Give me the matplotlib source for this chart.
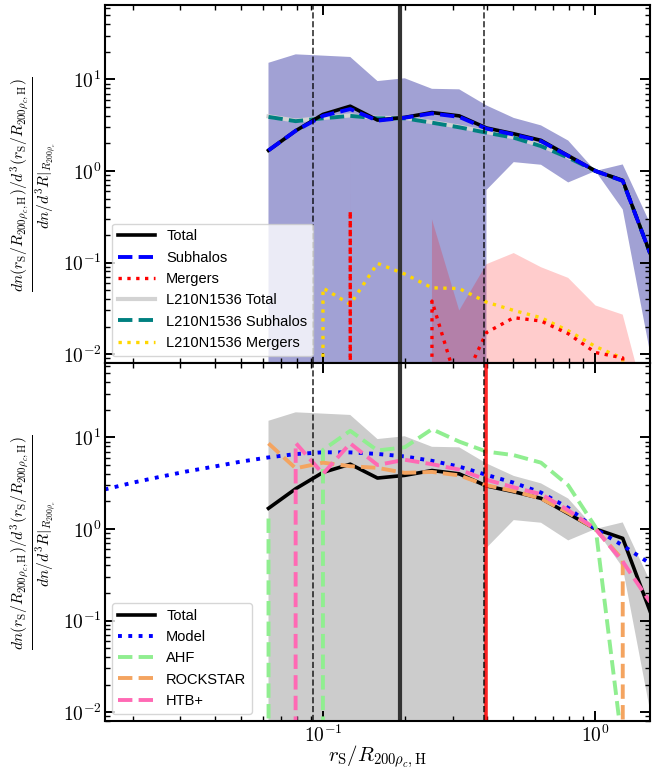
import numpy as np
import matplotlib as mpl
mpl.use('Agg')
import matplotlib.pyplot as plt
from matplotlib.ticker import FuncFormatter

plt.rcParams['mathtext.fontset'] = 'cm'
plt.rcParams['font.family'] = ['Liberation Sans', 'DejaVu Sans']
plt.rcParams['axes.linewidth'] = 1.5

# bin centres in r_S / R_200,H
r_bins = [0.0631, 0.0794, 0.1, 0.1259, 0.1585, 0.1995, 0.2512, 0.3162,
          0.3981, 0.5012, 0.6310, 0.7943, 1.0, 1.2589, 1.5849]

# main run
total      = [1.68, 2.75, 4.15, 5.1, 3.6, 3.85, 4.35, 4.0, 2.95, 2.55, 2.16, 1.47, 1.0, 0.79, 0.127]
subhalos   = [1.68, 2.75, 4.0, 4.75, 3.55, 3.82, 4.25, 3.9, 2.9, 2.5, 2.12, 1.46, 1.0, 0.78, 0.127]
mergers    = [0, 0, 0, 0.366, 0, 0, 0.038, 0.004, 0.0172, 0.025, 0.023, 0.0167, 0.0104, 0.0091, 0]
total_hi   = [15.2, 18.8, 18.2, 17.6, 9.6, 10.3, 7.9, 7.8, 5.2, 3.8, 3.15, 2.15, 1.0, 1.18, 0.27]
total_lo   = [0, 0, 0, 0, 0, 0, 0, 0, 0.62, 1.25, 1.17, 0.75, 1.0, 0.38, 0.0105]
mergers_hi = [0, 0, 0, 2.1, 0, 0, 0.296, 0.030, 0.096, 0.127, 0.089, 0.068, 0.034, 0.027, 0.002]
zeros      = [0] * 15

# L210N1536 run
big_total    = [3.95, 3.55, 3.8, 4.05, 3.8, 3.8, 3.42, 3.05, 2.66, 2.34, 1.9, 1.42, 1.0, 0.78, 0.127]
big_subhalos = [3.9, 3.5, 3.76, 4.0, 3.76, 3.76, 3.37, 3.0, 2.62, 2.31, 1.87, 1.4, 1.0, 0.78, 0.127]
big_mergers  = [0, 0, 0.0527, 0.035, 0.098, 0.075, 0.053, 0.052, 0.037, 0.030, 0.025, 0.018, 0.0121, 0.009, 0]

# halo finders
ahf      = [1.3, 0, 7.3, 11.8, 7.2, 7.8, 12.3, 9.0, 7.0, 6.4, 5.3, 3.0, 1.05, 0.004, 0]
rockstar = [8.6, 4.6, 5.3, 4.85, 4.65, 4.1, 4.2, 3.85, 3.0, 2.6, 2.15, 1.5, 1.0, 0.46, 0]
htb      = [0, 8.7, 4.0, 8.6, 5.0, 5.7, 5.1, 4.45, 3.45, 2.85, 2.4, 1.6, 1.0, 0.44, 0.16]

# model curve
model_r = [0.0158, 0.02, 0.0251, 0.0316, 0.0398, 0.0501, 0.0631, 0.0794, 0.1,
           0.1259, 0.1585, 0.1995, 0.2512, 0.3162, 0.3981, 0.5012, 0.6310,
           0.7943, 1.0, 1.2589, 1.5849]
model   = [2.7, 3.2, 3.7, 4.25, 4.8, 5.45, 6.05, 6.58, 6.88, 6.86, 6.6, 6.2,
           5.55, 4.8, 3.9, 3.2, 2.5, 1.7, 1.0, 0.66, 0.42]

# reference scales
r_res_lo = 0.092
r_res_hi = 0.389
r_med    = 0.191
r_cut    = 0.395

fig = plt.figure(figsize=(6.59, 7.71), dpi=100)
ax1 = fig.add_axes([0.1593, 0.5292, 0.827, 0.4643])
ax2 = fig.add_axes([0.1593, 0.0649, 0.827, 0.4643], sharex=ax1)

# top: subhalos vs mergers, big box drawn underneath
ax1.fill_between(r_bins, total_lo, total_hi, color='darkblue', alpha=0.37, lw=0)
ax1.fill_between(r_bins, zeros, mergers_hi, color='red', alpha=0.2, lw=0)
l4, = ax1.plot(r_bins, big_total, color='lightgray', lw=3, label='L210N1536 Total')
l5, = ax1.plot(r_bins, big_subhalos, color='teal', ls='--', lw=2.8, label='L210N1536 Subhalos')
l6, = ax1.plot(r_bins, big_mergers, color='gold', ls=':', lw=2.4, label='L210N1536 Mergers')
l1, = ax1.plot(r_bins, total, color='k', lw=2.6, label='Total')
l2, = ax1.plot(r_bins, subhalos, color='blue', ls='--', lw=2.8, label='Subhalos')
l3, = ax1.plot(r_bins, mergers, color='red', ls=':', lw=2.4, label='Mergers')
top_handles = [l1, l2, l3, l4, l5, l6]

# bottom: halo finders and model
ax2.fill_between(r_bins, total_lo, total_hi, color='k', alpha=0.2, lw=0)
ax2.plot(r_bins, total, color='k', lw=2.6, label='Total')
ax2.plot(model_r, model, color='blue', ls=':', lw=2.8, label='Model')
ax2.plot(r_bins, ahf, color='lightgreen', ls='--', lw=2.8, label='AHF')
ax2.plot(r_bins, rockstar, color='sandybrown', ls='--', lw=2.8, label='ROCKSTAR')
ax2.plot(r_bins, htb, color='hotpink', ls='--', lw=2.8, label='HTB+')
ax2.axvline(r_cut, color='red', lw=2.6, alpha=0.85)

ylab = (r'$\frac{dn(r_{\rm S}/R_{200\rho_c,{\rm H}})/d^3(r_{\rm S}/R_{200\rho_c,{\rm H}})}'
        r'{dn/d^3R|_{R_{200\rho_c}}}$')
pow_fmt = FuncFormatter(lambda v, pos: r'$10^{%d}$' % int(round(np.log10(v))))

for ax in (ax1, ax2):
    ax.axvline(r_res_lo, color='k', ls='--', lw=1.2, alpha=0.8)
    ax.axvline(r_res_hi, color='k', ls='--', lw=1.2, alpha=0.8)
    ax.axvline(r_med, color='#333333', lw=3)
    ax.set_xscale('log')
    ax.set_yscale('log')
    ax.set_xlim(10**-1.8, 10**0.2)
    ax.set_ylim(0.008, 65)
    ax.xaxis.set_major_formatter(pow_fmt)
    ax.yaxis.set_major_formatter(pow_fmt)
    ax.tick_params(which='both', direction='in', top=True, right=True, labelsize=14, pad=2.5)
    ax.tick_params(which='major', length=7, width=1.4)
    ax.tick_params(which='minor', length=3.5, width=1.0)
    ax.set_ylabel(ylab, fontsize=16)
    ax.yaxis.set_label_coords(-0.087, 0.5)

ax1.legend(handles=top_handles, loc='lower left', fontsize=10.5, handlelength=2.5, framealpha=0.8)
ax2.legend(loc='lower left', fontsize=10.5, handlelength=2.5, framealpha=0.8)
ax1.tick_params(labelbottom=False)
ax2.set_xlabel(r'$r_{\rm S}/R_{200\rho_c,{\rm H}}$', fontsize=15)
ax2.xaxis.set_label_coords(0.5, -0.062)

fig.savefig('out.png', dpi=100)
